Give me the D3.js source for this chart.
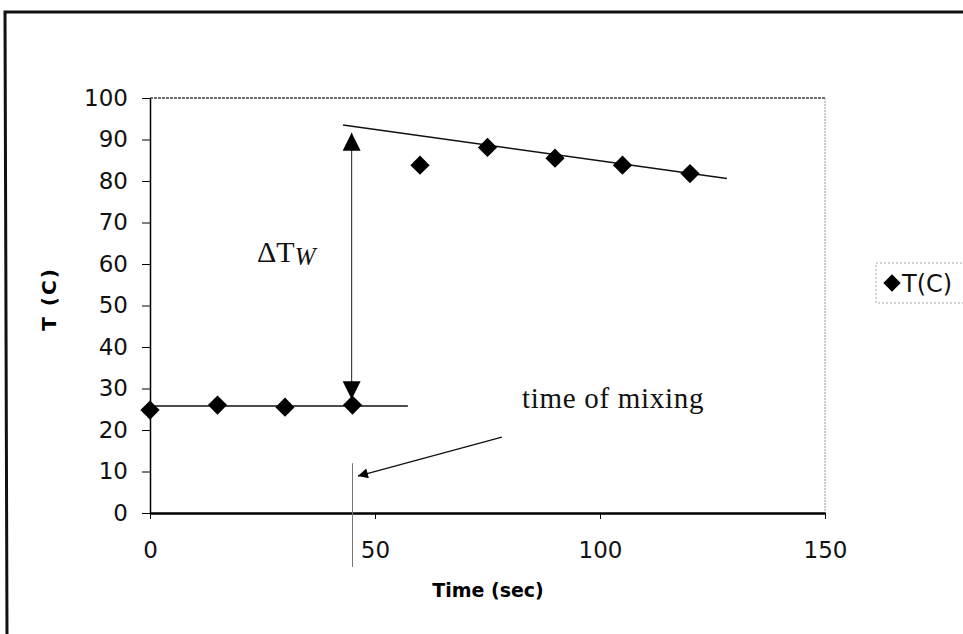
<!DOCTYPE html>
<html>
<head>
<meta charset="utf-8">
<script src="https://cdn.jsdelivr.net/npm/d3@7"></script>
<style>
  body { margin: 0; background: #fff; }
</style>
</head>
<body>
<div id="chart"></div>
<script>
// Data
const times = [0, 15, 30, 45, 60, 75, 90, 105, 120];
const temps = [24.8, 26.0, 25.5, 26.0, 83.8, 88.1, 85.5, 83.8, 81.8];
const xTicks = [0, 50, 100, 150];
const yTicks = [0, 10, 20, 30, 40, 50, 60, 70, 80, 90, 100];
// Hand drawn fit lines and arrows, in data units [time, T]
const lowLine = [[0, 25.8], [57.3, 25.8]];
const highLine = [[42.9, 93.5], [128.2, 80.6]];
const deltaArrow = [[44.8, 91.6], [44.8, 27.4]];
const mixLine = [[45, 12], [45, -13]];
const mixArrow = [[78.2, 18.3], [46.2, 8.9]];

const W = 963, H = 634;
const svg = d3.select("#chart")
	.append("svg")
		.attr("width", W)
		.attr("height", H);

svg.append("rect")
	.attr("width", W).attr("height", H)
	.attr("fill", "#fff");

// Outer frame (scanned page border)
svg.append("path")
	.attr("d", "M7,634 L5,12 L963,12")
	.attr("fill", "none")
	.attr("stroke", "#111")
	.attr("stroke-width", 3);

const x = d3.scaleLinear().domain([0, 150]).range([150, 825]);
const y = d3.scaleLinear().domain([0, 100]).range([513, 98]);

// plot area border: top and right dotted
svg.append("line")
	.attr("x1", x(0)).attr("x2", x(150))
	.attr("y1", y(100)).attr("y2", y(100))
	.attr("stroke", "#444").attr("stroke-width", 1.5)
	.attr("stroke-dasharray", "3,1");
svg.append("line")
	.attr("x1", x(150)).attr("x2", x(150))
	.attr("y1", y(100)).attr("y2", y(0))
	.attr("stroke", "#999").attr("stroke-width", 1)
	.attr("stroke-dasharray", "2,1");

// Y axis
var yAxis = svg.append("g")
	.attr("transform", "translate(" + x(0) + ",0)")
	.call(d3.axisLeft(y).tickValues(yTicks).tickSize(8).tickPadding(14).tickSizeOuter(0));
yAxis.select(".domain").attr("stroke-width", 1.5);
yAxis.selectAll("text")
	.attr("font-family", "DejaVu Sans")
	.attr("font-size", 23)
	.attr("fill", "#111");

// X axis
var xAxis = svg.append("g")
	.attr("transform", "translate(0," + y(0) + ")")
	.call(d3.axisBottom(x).tickValues(xTicks).tickSize(6).tickPadding(23).tickSizeOuter(0));
xAxis.select(".domain").attr("stroke-width", 2.5);
xAxis.selectAll("text")
	.attr("font-family", "DejaVu Sans")
	.attr("font-size", 23)
	.attr("fill", "#111");

// Axis titles
svg.append("text")
	.attr("x", 488).attr("y", 597)
	.attr("text-anchor", "middle")
	.attr("font-family", "DejaVu Sans")
	.attr("font-weight", "bold")
	.attr("font-size", 19)
	.text("Time (sec)");

svg.append("text")
	.attr("transform", "translate(56,299) rotate(-90)")
	.attr("text-anchor", "middle")
	.attr("font-family", "DejaVu Sans")
	.attr("font-weight", "bold")
	.attr("font-size", 20)
	.attr("letter-spacing", 2)
	.text("T (C)");

// Arrowhead markers
var defs = svg.append("defs");
defs.append("marker")
	.attr("id", "head")
	.attr("viewBox", "0 0 10 10")
	.attr("refX", 10).attr("refY", 5)
	.attr("markerUnits", "userSpaceOnUse")
	.attr("markerWidth", 25).attr("markerHeight", 18)
	.attr("orient", "auto-start-reverse")
	.append("path")
		.attr("d", "M0,0 L10,5 L0,10 z")
		.attr("fill", "#000");

defs.append("marker")
	.attr("id", "head2")
	.attr("viewBox", "0 0 10 10")
	.attr("refX", 10).attr("refY", 5)
	.attr("markerUnits", "userSpaceOnUse")
	.attr("markerWidth", 17).attr("markerHeight", 10)
	.attr("orient", "auto")
	.append("path")
		.attr("d", "M0,0 L10,5 L0,10 z")
		.attr("fill", "#000");

const line = d3.line().x(d => x(d[0])).y(d => y(d[1]));

// fit lines
svg.append("path").attr("d", line(lowLine))
	.attr("stroke", "#111").attr("stroke-width", 1.5).attr("fill", "none");
svg.append("path").attr("d", line(highLine))
	.attr("stroke", "#111").attr("stroke-width", 1.5).attr("fill", "none");

// mixing time marker
svg.append("path").attr("d", line(mixLine))
	.attr("stroke", "#777").attr("stroke-width", 1).attr("fill", "none");

// double arrow for Delta T
svg.append("path").attr("d", line(deltaArrow))
	.attr("stroke", "#444").attr("stroke-width", 1.2).attr("fill", "none")
	.attr("marker-start", "url(#head)")
	.attr("marker-end", "url(#head)");

// arrow to the time of mixing
svg.append("path").attr("d", line(mixArrow))
	.attr("stroke", "#111").attr("stroke-width", 1.3).attr("fill", "none")
	.attr("marker-end", "url(#head2)");

// Data points as diamonds
const diamond = d3.symbol().type(d3.symbolSquare).size(185);
svg.selectAll(".pt")
	.data(times)
	.enter()
	.append("path")
	.attr("class", "pt")
	.attr("d", diamond)
	.attr("transform", (d, i) => "translate(" + x(d) + "," + y(temps[i]) + ") rotate(45)")
	.attr("fill", "#000");

// Annotations
var dt = svg.append("text")
	.attr("x", 257).attr("y", 262)
	.attr("font-family", "Liberation Serif")
	.attr("font-size", 30)
	.attr("fill", "#111");
dt.append("tspan").text("\u0394T");
dt.append("tspan")
	.attr("font-style", "italic")
	.attr("font-size", 25)
	.attr("dy", 3)
	.text("W");

svg.append("text")
	.attr("x", 522).attr("y", 408)
	.attr("font-family", "Liberation Serif")
	.attr("font-size", 29)
	.attr("letter-spacing", 0.7)
	.attr("fill", "#111")
	.text("time of mixing");

// Legend
svg.append("rect")
	.attr("x", 876).attr("y", 263)
	.attr("width", 100).attr("height", 40)
	.attr("fill", "none")
	.attr("stroke", "#aaa")
	.attr("stroke-dasharray", "2,2");
svg.append("path")
	.attr("d", d3.symbol().type(d3.symbolSquare).size(150))
	.attr("transform", "translate(892,283) rotate(45)")
	.attr("fill", "#000");
svg.append("text")
	.attr("x", 902).attr("y", 292)
	.attr("font-family", "DejaVu Sans")
	.attr("font-size", 24)
	.attr("fill", "#111")
	.text("T(C)");
</script>
</body>
</html>
